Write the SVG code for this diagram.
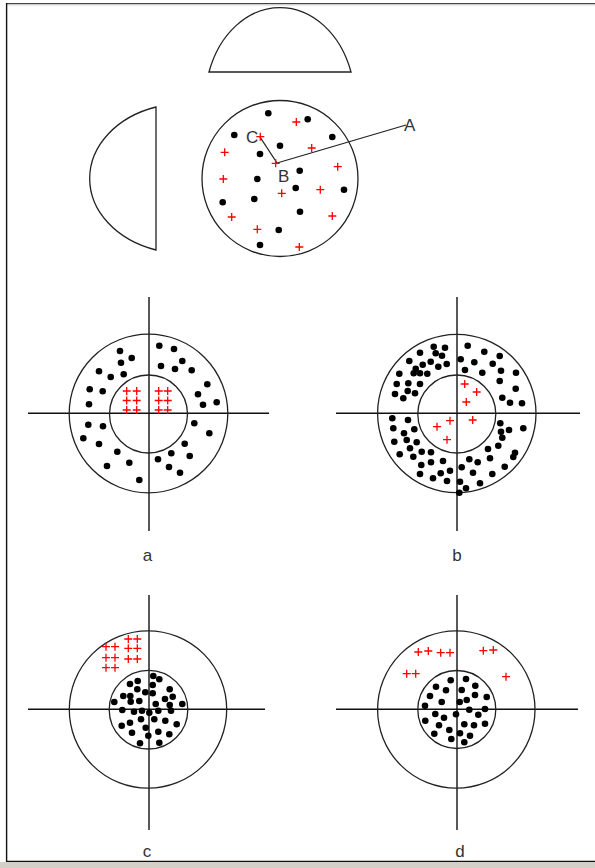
<svg xmlns="http://www.w3.org/2000/svg" xmlns:xlink="http://www.w3.org/1999/xlink" width="595" height="868" viewBox="0 0 595 868">
<style>
.ln{fill:none;stroke:#222;stroke-width:1.3}
.ax{stroke:#111;stroke-width:1.4}
.lb{font-family:"Liberation Sans",Arial,sans-serif;font-size:17px;fill:#333}
.cap{text-anchor:middle}
</style>
<defs>
<circle id="d" r="3.3" fill="#000"/>
<path id="p" d="M-4,0H4M0,-4V4" stroke="#f00" stroke-width="1.3" fill="none"/>
</defs>
<rect x="0" y="0" width="595" height="868" fill="#fff"/>
<g id="frame">
<rect x="0" y="862" width="595" height="6" fill="#d4d0c8"/>
<line x1="6" y1="3.5" x2="595" y2="3.5" stroke="#444" stroke-width="1.2"/>
<line x1="6" y1="4.8" x2="595" y2="4.8" stroke="#aaa" stroke-width="0.8"/>
<line x1="6.6" y1="3" x2="6.6" y2="862" stroke="#111" stroke-width="1.4"/>
<line x1="6" y1="861.4" x2="595" y2="861.4" stroke="#111" stroke-width="1.4"/>
</g>
<g id="top">
<path class="ln" d="M209,72 A75,95 0 0 1 351,72 Z"/>
<path class="ln" d="M156,107 A95,75 0 0 0 156,250 Z"/>
<circle class="ln" cx="280" cy="178.5" r="78"/>
<g id="connectors">
<line class="ln" x1="277" y1="163" x2="406" y2="125"/>
<line class="ln" x1="260" y1="137" x2="277" y2="163"/>
</g>
<g fill="#000">
<use xlink:href="#d" x="268.3" y="113.3"/><use xlink:href="#d" x="307.7" y="119.3"/><use xlink:href="#d" x="234.3" y="135"/><use xlink:href="#d" x="332.3" y="137"/><use xlink:href="#d" x="280" y="145.7"/><use xlink:href="#d" x="260" y="154"/><use xlink:href="#d" x="299.7" y="170.7"/><use xlink:href="#d" x="257.3" y="179"/><use xlink:href="#d" x="295.7" y="188"/><use xlink:href="#d" x="344" y="189.7"/><use xlink:href="#d" x="222.7" y="202.3"/><use xlink:href="#d" x="254.3" y="199"/><use xlink:href="#d" x="300" y="211.7"/><use xlink:href="#d" x="278.7" y="230"/><use xlink:href="#d" x="260" y="245"/>
</g>
<g>
<use xlink:href="#p" x="296.3" y="122"/><use xlink:href="#p" x="260.3" y="136.7"/><use xlink:href="#p" x="311.7" y="148"/><use xlink:href="#p" x="224.7" y="152.3"/><use xlink:href="#p" x="275.7" y="163.3"/><use xlink:href="#p" x="337.7" y="166.7"/><use xlink:href="#p" x="223.3" y="179"/><use xlink:href="#p" x="281.7" y="193.3"/><use xlink:href="#p" x="320.3" y="189.7"/><use xlink:href="#p" x="231.7" y="217"/><use xlink:href="#p" x="332.3" y="216"/><use xlink:href="#p" x="257.3" y="229.3"/><use xlink:href="#p" x="299.3" y="247"/>
</g>
<text class="lb" x="404" y="131">A</text>
<text class="lb" x="278" y="182">B</text>
<text class="lb" x="246" y="143">C</text>
</g>
<g id="panel-a">
<line class="ax" x1="149" y1="297" x2="149" y2="531"/>
<line class="ax" x1="28" y1="413.3" x2="269" y2="413.3"/>
<circle class="ln" cx="148.5" cy="413.5" r="79.3"/>
<circle class="ln" cx="148.5" cy="414" r="39"/>
<use xlink:href="#d" x="120" y="351"/><use xlink:href="#d" x="159.3" y="345.7"/><use xlink:href="#d" x="174" y="349"/><use xlink:href="#d" x="131.7" y="358"/><use xlink:href="#d" x="121" y="362.7"/><use xlink:href="#d" x="182.3" y="361"/><use xlink:href="#d" x="161" y="366"/><use xlink:href="#d" x="175" y="369"/><use xlink:href="#d" x="99" y="371.3"/><use xlink:href="#d" x="191.7" y="370.3"/><use xlink:href="#d" x="110.7" y="377"/><use xlink:href="#d" x="123.7" y="374.3"/><use xlink:href="#d" x="207.3" y="384.3"/><use xlink:href="#d" x="89.7" y="389.3"/><use xlink:href="#d" x="102.7" y="391.3"/><use xlink:href="#d" x="198" y="394.3"/><use xlink:href="#d" x="203" y="404.7"/><use xlink:href="#d" x="216.7" y="402.3"/><use xlink:href="#d" x="89" y="404.3"/><use xlink:href="#d" x="88.3" y="424.7"/><use xlink:href="#d" x="103" y="426.3"/><use xlink:href="#d" x="194.3" y="423.3"/><use xlink:href="#d" x="209.3" y="433.3"/><use xlink:href="#d" x="83.3" y="438.3"/><use xlink:href="#d" x="99" y="444"/><use xlink:href="#d" x="184.7" y="443.7"/><use xlink:href="#d" x="171.3" y="453.3"/><use xlink:href="#d" x="117.3" y="451.7"/><use xlink:href="#d" x="189.7" y="456"/><use xlink:href="#d" x="158" y="459.3"/><use xlink:href="#d" x="129.3" y="462.7"/><use xlink:href="#d" x="107" y="466"/><use xlink:href="#d" x="169" y="467"/><use xlink:href="#d" x="180" y="472.7"/><use xlink:href="#d" x="139.3" y="480"/>
<use xlink:href="#p" x="126.7" y="391"/><use xlink:href="#p" x="136.7" y="391"/><use xlink:href="#p" x="126.7" y="400.5"/><use xlink:href="#p" x="136.7" y="400.5"/><use xlink:href="#p" x="126.7" y="410"/><use xlink:href="#p" x="136.7" y="410"/>
<use xlink:href="#p" x="158.7" y="391"/><use xlink:href="#p" x="167.7" y="391"/><use xlink:href="#p" x="158.7" y="400.5"/><use xlink:href="#p" x="167.7" y="400.5"/><use xlink:href="#p" x="158.7" y="410"/><use xlink:href="#p" x="167.7" y="410"/>
<text class="lb cap" x="147.5" y="561">a</text>
</g>
<g id="panel-b">
<line class="ax" x1="457" y1="297" x2="457" y2="531"/>
<line class="ax" x1="336" y1="413.3" x2="580" y2="413.3"/>
<circle class="ln" cx="456.8" cy="413.5" r="79.2"/>
<circle class="ln" cx="456.8" cy="414" r="39"/>
<use xlink:href="#d" x="433.7" y="346.7"/><use xlink:href="#d" x="445" y="347.7"/><use xlink:href="#d" x="467.7" y="345.7"/><use xlink:href="#d" x="420" y="352.7"/><use xlink:href="#d" x="435.7" y="353.3"/><use xlink:href="#d" x="442" y="355.7"/><use xlink:href="#d" x="484.3" y="351.7"/><use xlink:href="#d" x="499.7" y="356"/><use xlink:href="#d" x="460.7" y="359.3"/><use xlink:href="#d" x="409.3" y="361"/><use xlink:href="#d" x="430.7" y="361.7"/><use xlink:href="#d" x="422.7" y="364.7"/><use xlink:href="#d" x="446.7" y="364"/><use xlink:href="#d" x="438.3" y="366.7"/><use xlink:href="#d" x="474.3" y="362.3"/><use xlink:href="#d" x="492.7" y="363.7"/><use xlink:href="#d" x="415.7" y="368.7"/><use xlink:href="#d" x="399.3" y="373.7"/><use xlink:href="#d" x="413.7" y="373.3"/><use xlink:href="#d" x="420" y="373.3"/><use xlink:href="#d" x="427.3" y="373.7"/><use xlink:href="#d" x="465" y="370"/><use xlink:href="#d" x="482.3" y="372.7"/><use xlink:href="#d" x="501" y="370.7"/><use xlink:href="#d" x="516" y="372.7"/><use xlink:href="#d" x="396.7" y="384"/><use xlink:href="#d" x="408.3" y="383.3"/><use xlink:href="#d" x="420" y="384"/><use xlink:href="#d" x="499.7" y="381"/><use xlink:href="#d" x="515.7" y="388.7"/><use xlink:href="#d" x="395" y="394"/><use xlink:href="#d" x="407.7" y="391"/><use xlink:href="#d" x="415" y="393.3"/><use xlink:href="#d" x="403.3" y="398.3"/><use xlink:href="#d" x="502.3" y="397.7"/><use xlink:href="#d" x="510" y="402.7"/><use xlink:href="#d" x="522" y="403.3"/><use xlink:href="#d" x="392.3" y="418.3"/><use xlink:href="#d" x="408" y="420"/><use xlink:href="#d" x="393.3" y="428.3"/><use xlink:href="#d" x="404" y="433.3"/><use xlink:href="#d" x="414.3" y="429.3"/><use xlink:href="#d" x="500.3" y="423.3"/><use xlink:href="#d" x="523.3" y="428.3"/><use xlink:href="#d" x="509" y="430"/><use xlink:href="#d" x="501" y="431.7"/><use xlink:href="#d" x="394.3" y="441.7"/><use xlink:href="#d" x="406.7" y="440"/><use xlink:href="#d" x="416.7" y="442.3"/><use xlink:href="#d" x="502.3" y="437.7"/><use xlink:href="#d" x="410" y="448.3"/><use xlink:href="#d" x="399.7" y="454.3"/><use xlink:href="#d" x="421.7" y="451.7"/><use xlink:href="#d" x="431" y="452.3"/><use xlink:href="#d" x="488" y="449"/><use xlink:href="#d" x="498.3" y="445.7"/><use xlink:href="#d" x="515" y="452.7"/><use xlink:href="#d" x="413.3" y="456.7"/><use xlink:href="#d" x="513.3" y="457"/><use xlink:href="#d" x="431" y="462.3"/><use xlink:href="#d" x="443" y="461"/><use xlink:href="#d" x="469.3" y="459.3"/><use xlink:href="#d" x="477.7" y="462.3"/><use xlink:href="#d" x="490" y="458.3"/><use xlink:href="#d" x="421.3" y="465"/><use xlink:href="#d" x="504.7" y="466.7"/><use xlink:href="#d" x="461.7" y="467.3"/><use xlink:href="#d" x="450" y="470.7"/><use xlink:href="#d" x="440.7" y="473.3"/><use xlink:href="#d" x="420" y="474"/><use xlink:href="#d" x="473" y="472.7"/><use xlink:href="#d" x="492.3" y="474"/><use xlink:href="#d" x="433" y="478.3"/><use xlink:href="#d" x="447" y="481"/><use xlink:href="#d" x="460" y="481.7"/><use xlink:href="#d" x="480" y="483.3"/><use xlink:href="#d" x="466" y="488.3"/><use xlink:href="#d" x="459.3" y="492.7"/>
<use xlink:href="#p" x="464.7" y="384"/><use xlink:href="#p" x="476.7" y="392"/><use xlink:href="#p" x="466.3" y="402"/><use xlink:href="#p" x="450" y="420.7"/><use xlink:href="#p" x="472.7" y="420"/><use xlink:href="#p" x="437" y="426.7"/><use xlink:href="#p" x="447" y="439.7"/>
<text class="lb cap" x="457" y="561">b</text>
</g>
<g id="panel-c">
<line class="ax" x1="149" y1="595" x2="149" y2="830"/>
<line class="ax" x1="28" y1="709.3" x2="265" y2="709.3"/>
<circle class="ln" cx="148" cy="709.5" r="78.7"/>
<circle class="ln" cx="148.5" cy="709.7" r="39.3"/>
<use xlink:href="#p" x="128.3" y="639"/><use xlink:href="#p" x="137.3" y="639"/>
<use xlink:href="#p" x="106" y="646.7"/><use xlink:href="#p" x="115" y="646.7"/><use xlink:href="#p" x="128.3" y="648.3"/><use xlink:href="#p" x="137.3" y="648.3"/>
<use xlink:href="#p" x="106" y="657.7"/><use xlink:href="#p" x="115" y="657.7"/><use xlink:href="#p" x="128.3" y="659"/><use xlink:href="#p" x="137.3" y="659"/>
<use xlink:href="#p" x="106" y="667.7"/><use xlink:href="#p" x="115" y="667.7"/>
<use xlink:href="#d" x="153.3" y="676"/><use xlink:href="#d" x="159.3" y="679.3"/><use xlink:href="#d" x="137.7" y="681"/><use xlink:href="#d" x="130" y="684"/><use xlink:href="#d" x="152.7" y="685"/><use xlink:href="#d" x="137.3" y="689.3"/><use xlink:href="#d" x="169.7" y="689.3"/><use xlink:href="#d" x="145.3" y="692.3"/><use xlink:href="#d" x="152.7" y="693.3"/><use xlink:href="#d" x="123.3" y="696"/><use xlink:href="#d" x="130.3" y="696"/><use xlink:href="#d" x="172.7" y="696.7"/><use xlink:href="#d" x="165" y="699"/><use xlink:href="#d" x="114.3" y="702"/><use xlink:href="#d" x="130.7" y="701.7"/><use xlink:href="#d" x="139.3" y="701"/><use xlink:href="#d" x="155.7" y="704"/><use xlink:href="#d" x="169.7" y="705"/><use xlink:href="#d" x="182.3" y="704"/><use xlink:href="#d" x="122.3" y="710"/><use xlink:href="#d" x="134" y="711.7"/><use xlink:href="#d" x="142" y="710.7"/><use xlink:href="#d" x="149.3" y="712.7"/><use xlink:href="#d" x="158.3" y="710.7"/><use xlink:href="#d" x="171" y="710.7"/><use xlink:href="#d" x="141" y="719.3"/><use xlink:href="#d" x="154.3" y="719.3"/><use xlink:href="#d" x="165.3" y="720.7"/><use xlink:href="#d" x="130" y="722.7"/><use xlink:href="#d" x="121.7" y="725.7"/><use xlink:href="#d" x="176.7" y="724.3"/><use xlink:href="#d" x="145.7" y="727.7"/><use xlink:href="#d" x="132" y="732.7"/><use xlink:href="#d" x="158.3" y="731.7"/><use xlink:href="#d" x="169.3" y="734.3"/><use xlink:href="#d" x="148.3" y="735.7"/><use xlink:href="#d" x="140" y="743.3"/><use xlink:href="#d" x="159.3" y="742.7"/>
<text class="lb cap" x="147" y="857">c</text>
</g>
<g id="panel-d">
<line class="ax" x1="457" y1="595" x2="457" y2="830"/>
<line class="ax" x1="336" y1="709.3" x2="578" y2="709.3"/>
<circle class="ln" cx="456.3" cy="709.5" r="78.7"/>
<circle class="ln" cx="456.8" cy="709.5" r="39"/>
<use xlink:href="#p" x="418.3" y="652"/><use xlink:href="#p" x="428.3" y="651"/><use xlink:href="#p" x="440.7" y="652.7"/><use xlink:href="#p" x="450" y="652.7"/><use xlink:href="#p" x="483.3" y="650.7"/><use xlink:href="#p" x="493.3" y="650"/><use xlink:href="#p" x="406.7" y="673.7"/><use xlink:href="#p" x="415.7" y="673.7"/><use xlink:href="#p" x="506" y="676.7"/>
<use xlink:href="#d" x="450.7" y="680.3"/><use xlink:href="#d" x="466" y="679"/><use xlink:href="#d" x="436" y="686.7"/><use xlink:href="#d" x="475.3" y="685.7"/><use xlink:href="#d" x="446" y="690.3"/><use xlink:href="#d" x="461.7" y="690"/><use xlink:href="#d" x="430" y="696"/><use xlink:href="#d" x="475" y="695"/><use xlink:href="#d" x="486.7" y="697"/><use xlink:href="#d" x="441.7" y="702"/><use xlink:href="#d" x="459.7" y="702"/><use xlink:href="#d" x="466.7" y="700"/><use xlink:href="#d" x="425" y="705.7"/><use xlink:href="#d" x="485" y="709"/><use xlink:href="#d" x="469.3" y="709.7"/><use xlink:href="#d" x="435.3" y="714"/><use xlink:href="#d" x="456" y="714.3"/><use xlink:href="#d" x="478.3" y="714.7"/><use xlink:href="#d" x="444" y="717.7"/><use xlink:href="#d" x="425.3" y="720.7"/><use xlink:href="#d" x="464.3" y="724.3"/><use xlink:href="#d" x="474" y="725.3"/><use xlink:href="#d" x="485" y="723.7"/><use xlink:href="#d" x="439" y="725.3"/><use xlink:href="#d" x="434.3" y="733.7"/><use xlink:href="#d" x="449.3" y="730"/><use xlink:href="#d" x="460" y="733.3"/><use xlink:href="#d" x="470" y="735.7"/><use xlink:href="#d" x="451.3" y="739"/><use xlink:href="#d" x="464.3" y="742.3"/>
<text class="lb cap" x="460" y="857">d</text>
</g>
</svg>
